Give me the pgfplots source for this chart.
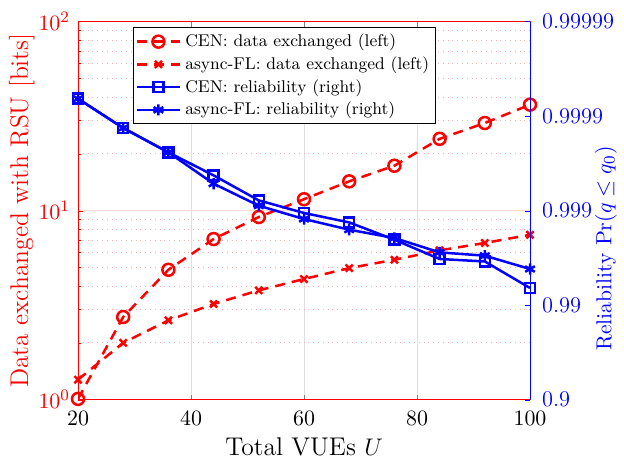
\documentclass[border=0pt]{standalone}
\usepackage{pgfplots}
\pgfplotsset{compat=1.18}
\pgfplotstableread{
x    cen   async
20   1.01  1.276
28   2.74  2.00
36   4.87  2.63
44   7.08  3.21
52   9.26  3.79
60   11.5  4.35
68   14.3  4.97
76   17.3  5.50
84   24.0  6.17
92   29.1  6.75
100  36.4  7.46
}\datatab
\pgfplotstableread{
x    cen    async
20   4.185  4.185
28   3.875  3.875
36   3.617  3.617
44   3.374  3.286
52   3.109  3.053
60   2.976  2.912
68   2.876  2.799
76   2.693  2.711
84   2.489  2.559
92   2.463  2.524
100  2.182  2.383
}\reltab
\begin{document}
\begin{tikzpicture}
\begin{axis}[name=ax, scale only axis, width=226pt, height=189pt,
  xmin=20, xmax=100, ymode=log, ymin=1, ymax=100,
  xtick={20,40,...,100},
  ytick pos=left,
  tick label style={font=\fontsize{11.2}{13}\selectfont},
  xticklabel style={yshift=-2.5pt},
  yticklabel style={red, xshift=-0.5pt},
  y axis line style={red},
  every major y tick/.append style={red},
  every minor y tick/.append style={red},
  major tick length=2.5pt, minor tick length=1.5pt,
  xmajorgrids, ymajorgrids, yminorgrids,
  major x grid style={gray!25},
  major y grid style={red!15},
  minor y grid style={red!30, dotted},
  xlabel={Total VUEs $U$},
  ylabel={Data exchanged with RSU [bits]},
  ylabel style={red, font=\fontsize{12.8}{15}\selectfont, at={(axis description cs:-0.1246,0.5)}, anchor=center},
  xlabel style={font=\fontsize{12.8}{15}\selectfont, at={(axis description cs:0.5,-0.124)}, anchor=center},
]
\addplot[red, line width=1.25pt, dash pattern=on 5pt off 3.5pt, mark=o, mark size=3pt, mark options={solid}] table[x=x,y=cen] {\datatab};
\addplot[red, line width=1.25pt, dash pattern=on 5pt off 3.5pt, mark=x, mark size=2.5pt, mark options={solid}] table[x=x,y=async] {\datatab};
\end{axis}
\begin{axis}[scale only axis, width=226pt, height=189pt,
  xmin=20, xmax=100, ymin=1, ymax=5,
  axis x line=none, axis y line*=right,
  ytick={1,2,3,4,5},
  yticklabels={0.9,0.99,0.999,0.9999,0.99999},
  tick label style={font=\fontsize{11.2}{13}\selectfont},
  yticklabel style={blue, xshift=2.5pt},
  y axis line style={blue},
  every major y tick/.append style={blue},
  major tick length=2.5pt,
  ylabel={Reliability $\Pr(q\leq q_0)$},
  ylabel style={blue, font=\fontsize{10.8}{13}\selectfont, at={(axis description cs:1.168,0.40)}, anchor=center},
  legend style={at={(0.122,0.985)}, anchor=north west, font=\fontsize{8.5}{10}\selectfont, draw=black, fill=white, inner sep=1pt, row sep=-0.5pt},
  legend cell align=left,
  legend image code/.code={\draw[mark repeat=2,mark phase=2] plot coordinates {(0cm,0cm) (0.38cm,0cm) (0.76cm,0cm)};},
]
\addlegendimage{red, line width=1.25pt, dash pattern=on 5pt off 3.5pt, mark=o, mark size=3pt, mark options={solid}}
\addlegendentry{CEN: data exchanged (left)}
\addlegendimage{red, line width=1.25pt, dash pattern=on 5pt off 3.5pt, mark=x, mark size=2.5pt, mark options={solid}}
\addlegendentry{async-FL: data exchanged (left)}
\addplot[blue, line width=1.25pt, mark=square, mark size=2.5pt] table[x=x,y=cen] {\reltab};
\addlegendentry{CEN: reliability (right)}
\addplot[blue, line width=1.25pt, mark=asterisk, mark size=2.8pt] table[x=x,y=async] {\reltab};
\addlegendentry{async-FL: reliability (right)}
\end{axis}
\pgfresetboundingbox
\path ([shift={(-39pt,-32pt)}]ax.south west) rectangle ([shift={(47pt,10.85pt)}]ax.north east);
\end{tikzpicture}
\end{document}
